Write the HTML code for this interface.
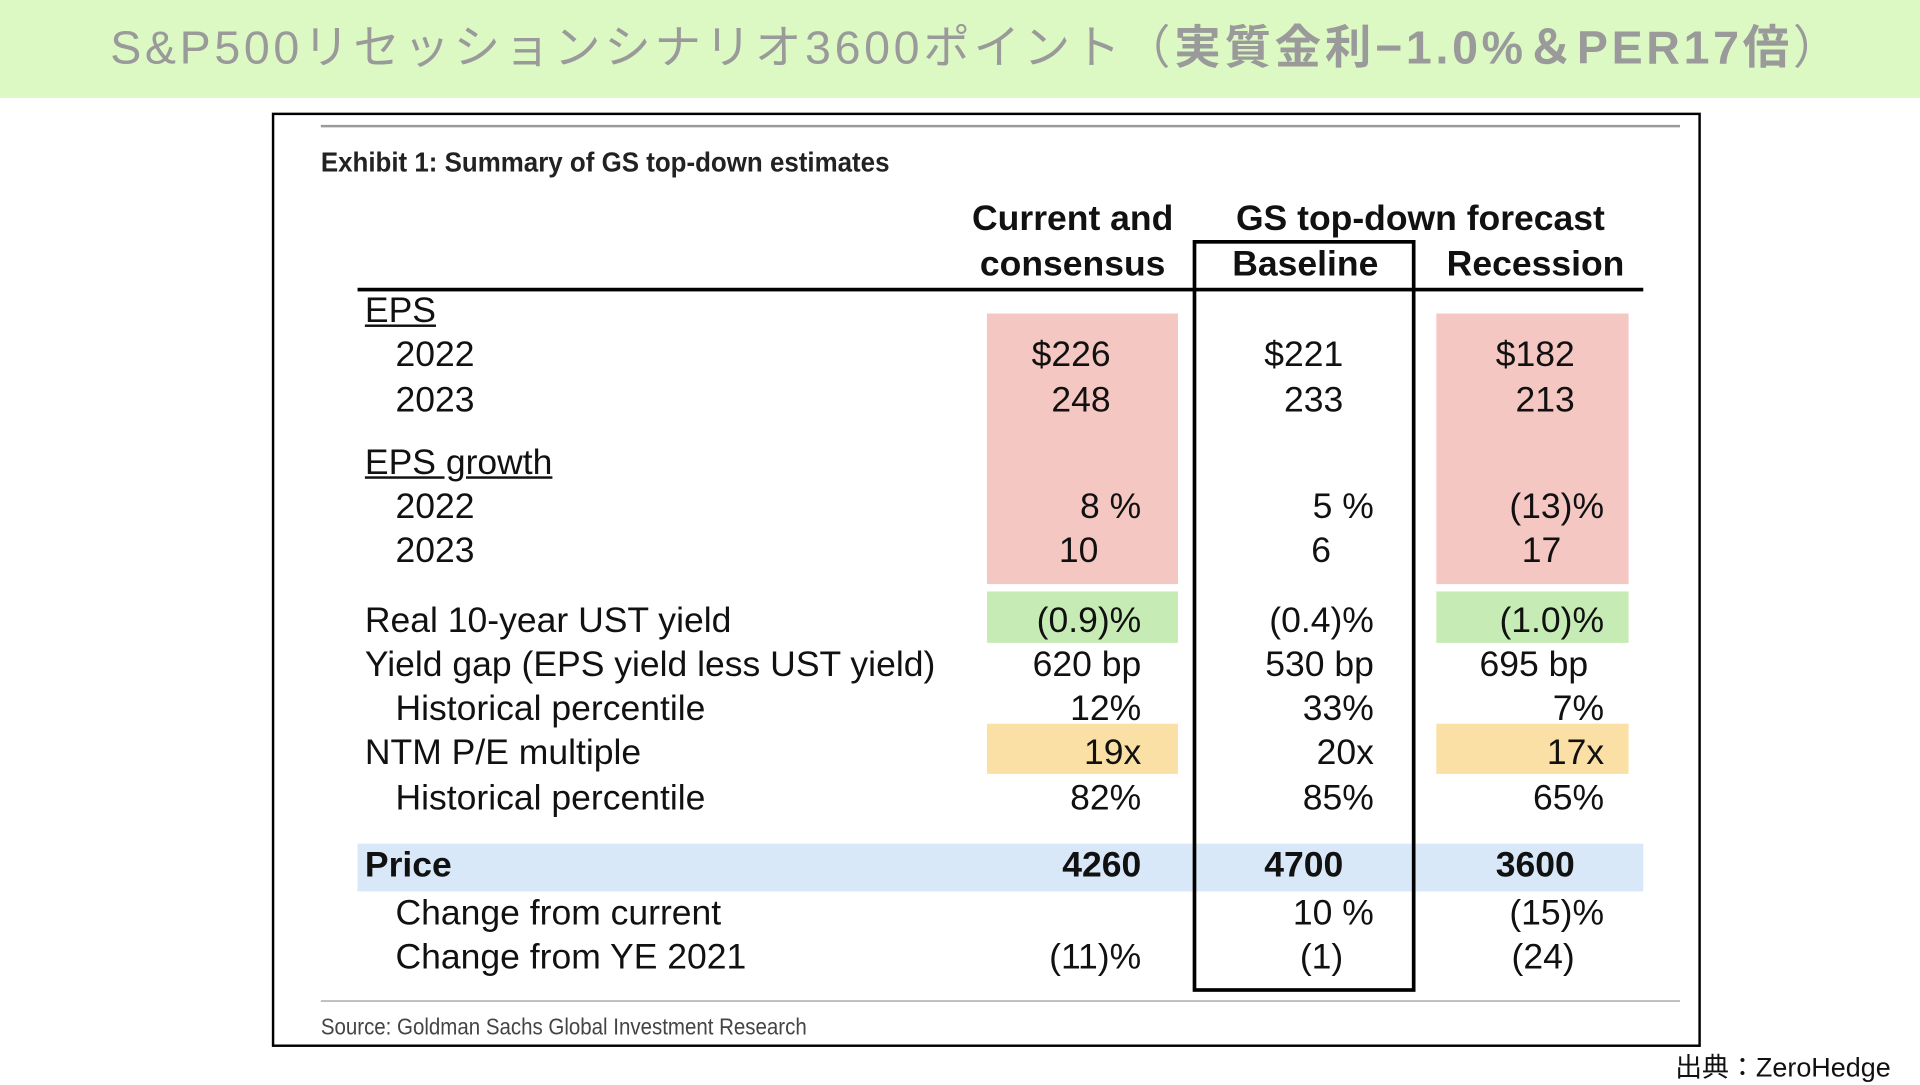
<!DOCTYPE html>
<html><head><meta charset="utf-8"><style>
html,body{margin:0;padding:0;width:1920px;height:1080px;overflow:hidden;background:#fff}
#s{position:absolute;left:0;top:0;width:1568px;height:884px;transform:scale(1.22449);transform-origin:0 0;font-family:"Liberation Sans",Arial,sans-serif;color:#111}
.a{position:absolute;white-space:nowrap}
.t{font-size:29px;line-height:30px;transform:translateY(-15px)}
.r{transform:translate(-100%,-15px)}
.c{transform:translate(-50%,-15px)}
.h{font-weight:bold;font-size:29px;line-height:30px}
.cell{position:absolute}
</style></head><body>
<div id="s">
<div class="a" style="left:0;top:0;width:1568px;height:80px;background:#dcf9c4"></div>
<div class="a" style="left:90px;top:15px;font-size:38px;line-height:50px;color:#9a9a9a;font-family:'Liberation Sans','Noto Sans CJK JP',sans-serif;letter-spacing:3px">S&amp;P500リセッションシナリオ3600ポイント（<b>実質金利−1.0%＆PER17倍</b>）</div>
<div class="a" style="left:222px;top:92px;width:1163px;height:759px;border:2px solid #000"></div>
<div class="a" style="left:262px;top:102px;width:1110px;height:2px;background:#999"></div>
<div class="a" style="left:262px;top:119px;font-size:23px;font-weight:bold;color:#222;transform:scaleX(0.92);transform-origin:0 0">Exhibit 1: Summary of GS top-down estimates</div>
<div class="cell" style="left:806px;top:256px;width:156px;height:221px;background:#f4c7c2"></div>
<div class="cell" style="left:1173px;top:256px;width:157px;height:221px;background:#f4c7c2"></div>
<div class="cell" style="left:806px;top:483px;width:156px;height:42px;background:#c6ebb4"></div>
<div class="cell" style="left:1173px;top:483px;width:157px;height:42px;background:#c6ebb4"></div>
<div class="cell" style="left:806px;top:591px;width:156px;height:41px;background:#fbe0a6"></div>
<div class="cell" style="left:1173px;top:591px;width:157px;height:41px;background:#fbe0a6"></div>
<div class="cell" style="left:292px;top:689px;width:1050px;height:39px;background:#d8e8f8"></div>
<div class="a h c" style="left:876px;top:179px">Current and</div>
<div class="a h c" style="left:876px;top:216px">consensus</div>
<div class="a h c" style="left:1160px;top:179px">GS top-down forecast</div>
<div class="a h c" style="left:1066px;top:216px">Baseline</div>
<div class="a h c" style="left:1254px;top:216px">Recession</div>
<div class="a" style="left:292px;top:235px;width:1050px;height:3px;background:#000"></div>
<div class="a" style="left:974px;top:196px;width:176px;height:608px;border:3px solid #000"></div>
<div class="a t" style="left:298px;top:254px;text-decoration:underline">EPS</div>
<div class="a t" style="left:323px;top:290px">2022</div>
<div class="a t" style="left:323px;top:327px">2023</div>
<div class="a t" style="left:298px;top:378px;text-decoration:underline">EPS growth</div>
<div class="a t" style="left:323px;top:414px">2022</div>
<div class="a t" style="left:323px;top:450px">2023</div>
<div class="a t" style="left:298px;top:507px">Real 10-year UST yield</div>
<div class="a t" style="left:298px;top:543px">Yield gap (EPS yield less UST yield)</div>
<div class="a t" style="left:323px;top:579px">Historical percentile</div>
<div class="a t" style="left:298px;top:615px">NTM P/E multiple</div>
<div class="a t" style="left:323px;top:652px">Historical percentile</div>
<div class="a t" style="left:298px;top:707px;font-weight:bold">Price</div>
<div class="a t" style="left:323px;top:746px">Change from current</div>
<div class="a t" style="left:323px;top:782px">Change from YE 2021</div>
<div class="a" style="left:262px;top:817px;width:1110px;height:1px;background:#999"></div>
<div class="a" style="left:262px;top:829px;font-size:19px;color:#444;transform:scaleX(0.88);transform-origin:0 0">Source: Goldman Sachs Global Investment Research</div>
<div class="a" style="left:1368px;top:854px;font-size:22px;font-family:'Liberation Sans','Noto Sans CJK JP',sans-serif;color:#111">出典：ZeroHedge</div>
</div>
<script>
const rowsY=[290,327,414,450,507,543,579,615,652,707,746,782];
const currentVals=["$226","248","8 %","10","(0.9)%","620 bp","12%","19x","82%","4260","","(11)%"];
const baselineVals=["$221","233","5 %","6","(0.4)%","530 bp","33%","20x","85%","4700","10 %","(1)"];
const recessionVals=["$182","213","(13)%","17","(1.0)%","695 bp","7%","17x","65%","3600","(15)%","(24)"];
const curRight=[907,907,932,897,932,932,932,932,932,932,932,932];
const baseRight=[1097,1097,1122,1087,1122,1122,1122,1122,1122,1097,1122,1097];
const recRight=[1286,1286,1310,1275,1310,1297,1310,1310,1310,1286,1310,1286];
const host=document.getElementById('s');
function put(v,x,y,name,i){
  if(!v)return;
  const d=document.createElement('div');
  d.className='a t r';
  d.style.left=x+'px';d.style.top=y+'px';
  if(i===9)d.style.fontWeight='bold';
  d.textContent=v;
  
  
  host.appendChild(d);
}
rowsY.forEach((y,i)=>{
  put(currentVals[i],curRight[i],y,'current-value',i);
  put(baselineVals[i],baseRight[i],y,'baseline-value',i);
  put(recessionVals[i],recRight[i],y,'recession-value',i);
});
</script>
</body></html>
